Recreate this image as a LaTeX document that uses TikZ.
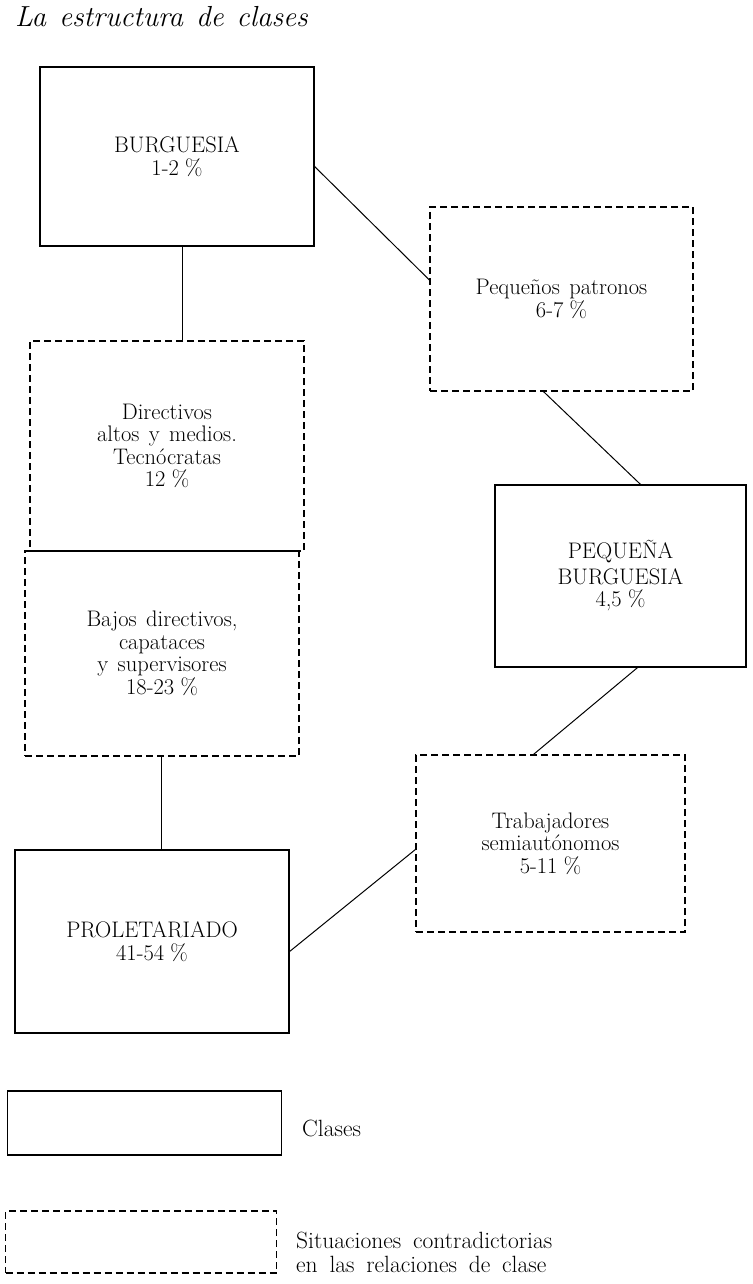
\documentclass[tikz,border=0pt]{standalone}
\usepackage{fontspec}
\newcommand\myboxfont{\fontsize{22.5}{22.5}\selectfont\spaceskip 0.42em plus 0.1em minus 0.05em\relax}
\newcommand\mylegfont{\fontsize{23.5}{24}\selectfont\spaceskip 0.5em plus 0.1em\relax}
\newcommand\mytitlefont{\fontsize{29}{30}\selectfont\itshape\spaceskip 0.45em plus 0.1em\relax}
\newcommand\pc{\hspace{0.28em}\%}
\begin{document}
\begin{tikzpicture}[x=1pt,y=-1pt,
  cls/.style={draw, line width=1.2pt, inner sep=0pt, align=center, font=\myboxfont},
  contr/.style={cls, dash pattern=on 7pt off 4pt},
  link/.style={line width=1pt},
  legtext/.style={anchor=west, align=left, inner sep=0pt, font=\mylegfont}]
\useasboundingbox (0,0) rectangle (752,1284);
% title
\node[anchor=base west, inner sep=0pt, font=\mytitlefont] (title) at (15,27) {La estructura de clases};
% boxes
\node[cls, minimum width=274pt, minimum height=179pt] (burg) at (177,156.5) {BURGUESIA\\1-2\pc};
\node[contr, minimum width=263pt, minimum height=184pt] (peq) at (561.5,299) {Pequeños patronos\\6-7\pc};
\node[contr, minimum width=274pt, minimum height=210pt] (dir) at (167,446) {Directivos\\altos y medios.\\Tecnócratas\\12\pc};
\node[contr, minimum width=274pt, minimum height=205pt] (baj) at (162,653.5) {Bajos directivos,\\capataces\\y supervisores\\18-23\pc};
\node[cls, minimum width=251pt, minimum height=182pt] (pb) at (620.5,576) {PEQUEÑA\\[3pt]BURGUESIA\\4,5\pc};
\node[contr, minimum width=269pt, minimum height=177pt] (trab) at (550.5,843.5) {Trabajadores\\semiautónomos\\5-11\pc};
\node[cls, minimum width=274pt, minimum height=183pt] (prol) at (152,941.5) {PROLETARIADO\\41-54\pc};
% legend
\node[cls, minimum width=274pt, minimum height=64pt] (legc) at (144.5,1123) {};
\node[contr, minimum width=271pt, minimum height=62pt] (legs) at (141,1242) {};
\node[legtext] (legct) at (302,1128) {Clases};
\node[legtext] (legst) at (296,1252) {Situaciones contradictorias\\en las relaciones de clase};
% connectors
\draw[link] ([xshift=5pt]burg.south) -- ([xshift=5pt]burg.south |- dir.north);
\draw[link] ([yshift=-10pt]burg.east) -- ([yshift=19pt]peq.west);
\draw[link] ([xshift=-18pt]peq.south) -- ([xshift=20pt]pb.north);
\draw[link] ([xshift=17pt]pb.south) -- ([xshift=-17pt]trab.north);
\draw[link] ([xshift=-1pt]baj.south) -- ([xshift=-1pt]baj.south |- prol.north);
\draw[link] ([yshift=-10pt]prol.east) -- ([yshift=-6pt]trab.west);
\end{tikzpicture}
\end{document}
